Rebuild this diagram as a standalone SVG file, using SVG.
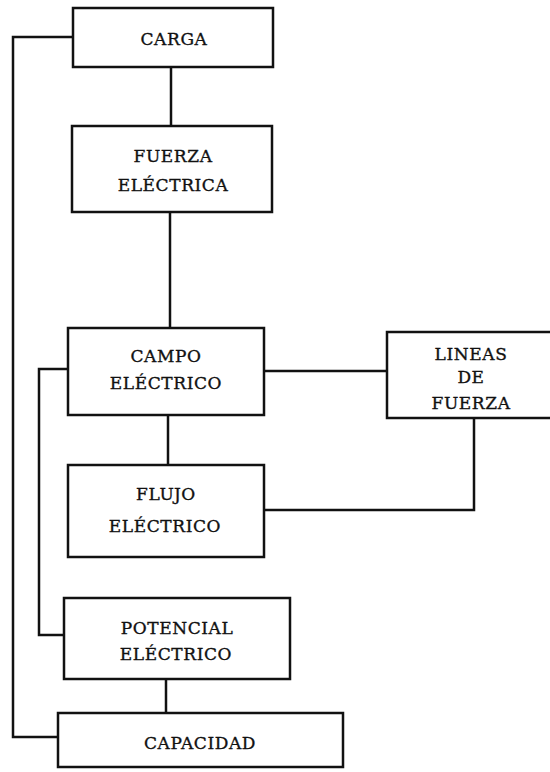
<svg xmlns="http://www.w3.org/2000/svg" width="550" height="772" viewBox="0 0 550 772">
<style>
.box{fill:#fff;stroke:#111;stroke-width:2.5}
.c{fill:none;stroke:#111;stroke-width:2.5;stroke-linejoin:miter}
text{font-family:"DejaVu Serif","Liberation Serif",serif;font-size:17px;fill:#111;stroke:#111;stroke-width:0.35;letter-spacing:0.6px;text-anchor:middle}
</style>
<rect width="550" height="772" fill="#fff"/>
<g id="connectors">
<path class="c" d="M73,37 H13 V737 H58"/>
<path class="c" d="M171,67 V126"/>
<path class="c" d="M170,212 V328"/>
<path class="c" d="M264,371 H387"/>
<path class="c" d="M168,415 V465"/>
<path class="c" d="M264,510 H474 V418"/>
<path class="c" d="M68,369 H39 V635 H64"/>
<path class="c" d="M166,679 V713"/>
</g>
<g id="carga"><rect class="box" x="73" y="8" width="200" height="59"/><text x="174" y="45">CARGA</text></g>
<g id="fuerza"><rect class="box" x="72" y="126" width="200" height="86"/><text x="173" y="162">FUERZA</text><text x="173" y="191">ELÉCTRICA</text></g>
<g id="campo"><rect class="box" x="68" y="328" width="196" height="87"/><text x="166" y="362">CAMPO</text><text x="166" y="389">ELÉCTRICO</text></g>
<g id="lineas"><rect class="box" x="387" y="332" width="175" height="86"/><text x="471" y="360">LINEAS</text><text x="471" y="383">DE</text><text x="471" y="409">FUERZA</text></g>
<g id="flujo"><rect class="box" x="68" y="465" width="196" height="92"/><text x="166" y="500">FLUJO</text><text x="165" y="532">ELÉCTRICO</text></g>
<g id="potencial"><rect class="box" x="64" y="598" width="226" height="81"/><text x="177" y="634">POTENCIAL</text><text x="176" y="660">ELÉCTRICO</text></g>
<g id="capacidad"><rect class="box" x="58" y="713" width="285" height="54"/><text x="200" y="749">CAPACIDAD</text></g>
</svg>
